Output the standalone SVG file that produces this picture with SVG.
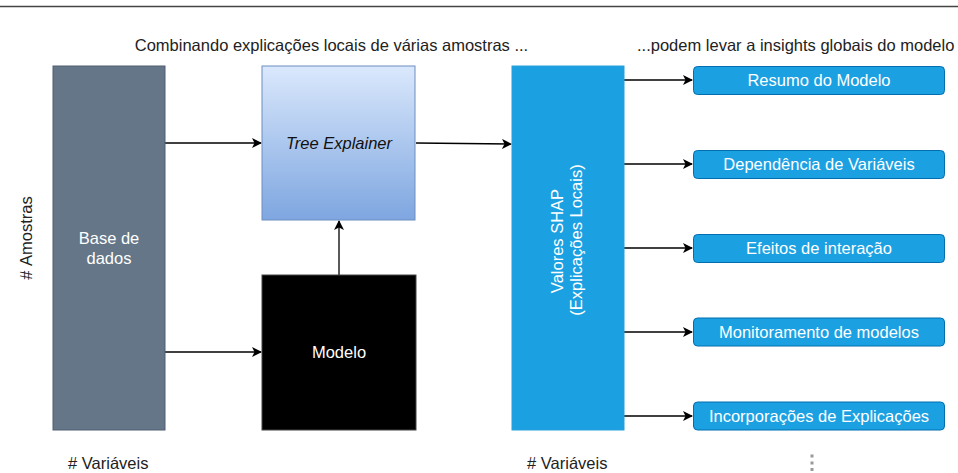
<svg xmlns="http://www.w3.org/2000/svg" width="958" height="473" viewBox="0 0 958 473">
<style>
text{font-family:"Liberation Sans",Arial,sans-serif;font-size:16.5px}
.lbl{fill:#222}
.w{fill:#ffffff}
.c{text-anchor:middle}
.conn{stroke:#000;stroke-width:1.3;fill:none;marker-end:url(#arr)}
.out{fill:#1ba1e2;stroke:#006eaf;stroke-width:1}
</style>
<defs>
<marker id="arr" viewBox="0 0 10 10" refX="9" refY="5" markerWidth="10" markerHeight="10" markerUnits="userSpaceOnUse" orient="auto">
<path d="M0,0 L10,5 L0,10 L2.5,5 Z" fill="#000"/>
</marker>
<linearGradient id="g1" x1="0" y1="0" x2="0" y2="1">
<stop offset="0" stop-color="#dae8fc"/>
<stop offset="1" stop-color="#7ea6e0"/>
</linearGradient>
</defs>
<rect width="958" height="473" fill="#fff"/>
<line x1="0" y1="6.5" x2="958" y2="6.5" stroke="#444" stroke-width="1.5"/>
<g id="labels">
<text class="lbl c" x="331.5" y="51">Combinando explicações locais de várias amostras ...</text>
<text class="lbl" x="637" y="51">...podem levar a insights globais do modelo</text>
<text class="lbl c" transform="translate(32,238) rotate(-90)">#&#160;Amostras</text>
<text class="lbl" x="68" y="469">#&#160;Variáveis</text>
<text class="lbl" x="527" y="469">#&#160;Variáveis</text>
<g fill="#999"><rect x="810.5" y="454.5" width="3" height="3"/><rect x="810.5" y="461.5" width="3" height="3"/><rect x="810.5" y="468" width="3" height="3"/></g>
</g>
<g id="connectors">
<line class="conn" x1="165" y1="143" x2="261" y2="143"/>
<line class="conn" x1="165" y1="352" x2="261" y2="352"/>
<line class="conn" x1="339" y1="275" x2="339" y2="221"/>
<line class="conn" x1="416" y1="143" x2="511" y2="144"/>
<line class="conn" x1="624" y1="80" x2="692" y2="80"/>
<line class="conn" x1="624" y1="164" x2="692" y2="164"/>
<line class="conn" x1="624" y1="248" x2="692" y2="248"/>
<line class="conn" x1="624" y1="332" x2="692" y2="332"/>
<line class="conn" x1="624" y1="416" x2="692" y2="416"/>
</g>
<g id="base">
<rect x="53" y="66" width="112" height="364" fill="#647687" stroke="#4f5f70" stroke-width="1"/>
<text class="w c" x="109" y="244">Base de</text>
<text class="w c" x="109" y="264">dados</text>
</g>
<g id="tree">
<rect x="262" y="66" width="153" height="154" fill="url(#g1)" stroke="#6c8ebf" stroke-width="1"/>
<text class="c" x="339" y="149" font-style="italic" fill="#111">Tree Explainer</text>
</g>
<g id="modelo">
<rect x="262" y="275" width="154" height="155" fill="#000" stroke="#444" stroke-width="1"/>
<text class="w c" x="339" y="358">Modelo</text>
</g>
<g id="shap">
<rect x="512" y="66" width="112" height="364" fill="#1ba1e2" stroke="#2a9fd8" stroke-width="1"/>
<text class="w c" transform="translate(563,241) rotate(-90)">Valores SHAP</text>
<text class="w c" transform="translate(582,240) rotate(-90)">(Explicações Locais)</text>
</g>
<g id="resumo">
<rect class="out" x="693.5" y="66.5" width="251" height="28" rx="4"/>
<text class="w c" x="819" y="86">Resumo do Modelo</text>
</g>
<g id="dependencia">
<rect class="out" x="693.5" y="150.5" width="251" height="28" rx="4"/>
<text class="w c" x="819" y="170">Dependência de Variáveis</text>
</g>
<g id="efeitos">
<rect class="out" x="693.5" y="234.5" width="251" height="28" rx="4"/>
<text class="w c" x="819" y="254">Efeitos de interação</text>
</g>
<g id="monitoramento">
<rect class="out" x="693.5" y="318" width="251" height="28" rx="4"/>
<text class="w c" x="819" y="338">Monitoramento de modelos</text>
</g>
<g id="incorporacoes">
<rect class="out" x="693.5" y="402" width="251" height="28" rx="4"/>
<text class="w c" x="819" y="422">Incorporações de Explicações</text>
</g>
</svg>
